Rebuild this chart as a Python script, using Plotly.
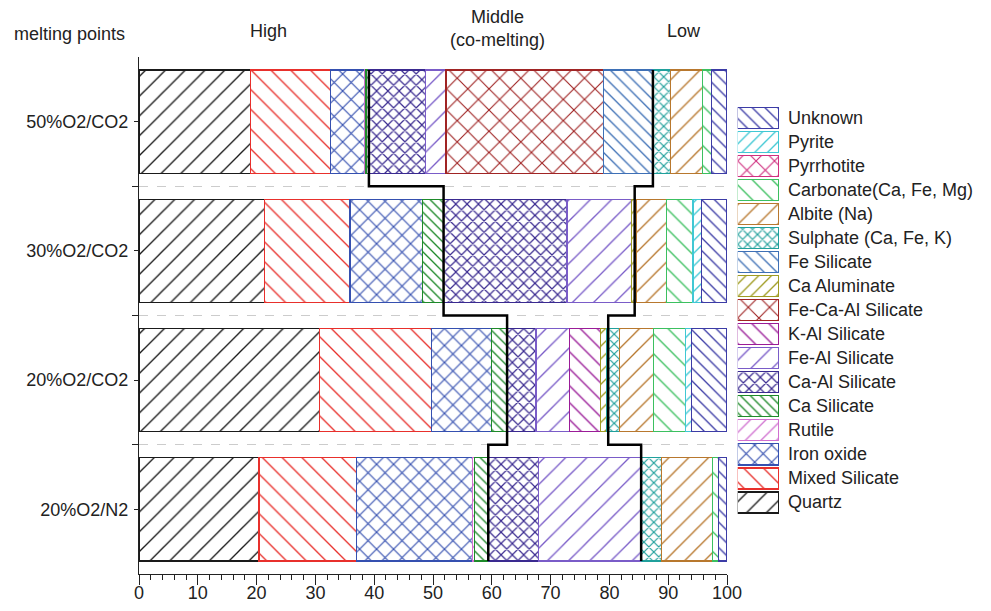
import plotly.graph_objects as go

# ---------------- data ----------------
categories = ["20%O2/N2", "20%O2/CO2", "30%O2/CO2", "50%O2/CO2"]  # bottom -> top

minerals = ["Quartz", "Mixed Silicate", "Iron oxide", "Rutile", "Ca Silicate",
            "Ca-Al Silicate", "Fe-Al Silicate", "K-Al Silicate", "Fe-Ca-Al Silicate",
            "Ca Aluminate", "Fe Silicate", "Sulphate (Ca, Fe, K)", "Albite (Na)",
            "Carbonate(Ca, Fe, Mg)", "Pyrrhotite", "Pyrite", "Unknown"]

# percentages per category, order: 20%O2/N2, 20%O2/CO2, 30%O2/CO2, 50%O2/CO2
quartz        = [20.4, 30.7, 21.4, 19.0]
mixed_sil     = [16.6, 19.1, 14.5, 13.6]
iron_oxide    = [19.7, 10.2, 12.3, 5.7]
rutile        = [0.4, 0.0, 0.0, 0.3]
ca_sil        = [2.3, 2.6, 3.6, 0.5]
ca_al_sil     = [8.5, 4.9, 21.0, 9.6]
fe_al_sil     = [17.5, 5.7, 11.0, 3.5]
k_al_sil      = [0.0, 5.3, 0.0, 0.0]
fe_ca_al_sil  = [0.0, 0.0, 0.0, 26.8]
ca_aluminate  = [0.0, 1.1, 0.4, 0.0]
fe_sil        = [0.0, 0.0, 0.0, 8.5]
sulphate      = [3.4, 2.1, 0.4, 2.9]
albite        = [8.8, 5.8, 5.1, 5.5]
carbonate     = [1.0, 5.5, 4.5, 1.5]
pyrrhotite    = [0.0, 0.0, 0.0, 0.0]
pyrite        = [0.0, 1.0, 1.4, 0.0]
unknown       = [1.4, 6.0, 4.4, 2.6]

series = [quartz, mixed_sil, iron_oxide, rutile, ca_sil, ca_al_sil, fe_al_sil,
          k_al_sil, fe_ca_al_sil, ca_aluminate, fe_sil, sulphate, albite,
          carbonate, pyrrhotite, pyrite, unknown]

# melting-point boundary step lines (x in %, y in category units)
high_mid_x = [39.1, 39.1, 51.8, 51.8, 62.6, 62.6, 59.4, 59.4]
mid_low_x  = [87.4, 87.4, 84.3, 84.3, 79.8, 79.8, 85.4, 85.4]
step_y     = [3.4, 2.5, 2.5, 1.5, 1.5, 0.5, 0.5, -0.4]

header_labels = ["melting points", "High", "Middle<br>(co-melting)", "Low"]
x_ticks = list(range(0, 101, 10))

# ---------------- styles ----------------
colors = ["#1a1a1a", "#e8302c", "#3550b0", "#d070d0", "#1e8a2a",
          "#3a2a90", "#7a5cc8", "#9a1c98", "#a02424",
          "#a09c22", "#3e70b6", "#20a09c", "#b8782e",
          "#3cc060", "#d03080", "#40c8d4", "#3c3ca6"]
shapes_p = ["/", "\\", "x", "/", "\\", "x", "/", "\\", "x",
            "/", "\\", "x", "/", "\\", "x", "/", "\\"]
sizes_p = [14, 14, 12, 11, 7, 8, 15, 12, 15, 9, 9, 7, 14, 14, 13, 9, 9]

FONT = "Liberation Sans, Arial, sans-serif"
W, H = 991, 611

fig = go.Figure()
ypos = list(range(len(categories)))


def marker_for(c, sh, sz):
    sol = (2.2 if sh == "x" else 1.35) / sz
    return dict(color=c, line=dict(color=c, width=1.2),
                pattern=dict(shape=sh, size=sz, solidity=sol,
                             fgcolor=c, bgcolor="white", fillmode="replace"))


for name, vals, c, sh, sz in zip(minerals, series, colors, shapes_p, sizes_p):
    fig.add_trace(go.Bar(
        x=vals, y=ypos, orientation="h", name=name, width=0.8,
        marker=marker_for(c, sh, sz),
        showlegend=False, xaxis="x", yaxis="y"))

for xs in (high_mid_x, mid_low_x):
    fig.add_trace(go.Scatter(x=xs, y=step_y, mode="lines",
                             line=dict(color="black", width=2.5),
                             showlegend=False, hoverinfo="skip",
                             xaxis="x", yaxis="y"))

# custom legend (swatches as bars in a small subplot)
leg_pos = list(range(len(minerals)))
for i, (name, c, sh, sz) in enumerate(zip(minerals, colors, shapes_p, sizes_p)):
    fig.add_trace(go.Bar(
        x=[1], y=[leg_pos[i]], orientation="h", width=0.875, cliponaxis=False,
        marker=marker_for(c, sh, sz),
        showlegend=False, hoverinfo="skip", xaxis="x4", yaxis="y4"))

annotations = []
for i, name in enumerate(minerals):
    annotations.append(dict(x=786 / W, y=leg_pos[i], xref="paper", yref="y4",
                            text=name, showarrow=False, xanchor="left",
                            yanchor="middle", font=dict(size=18, color="#222",
                                                        family=FONT)))

hdr_xy = [(69, 34), (268.7, 31), (497, 29), (684, 31)]
for t, (px, py) in zip(header_labels, hdr_xy):
    annotations.append(dict(x=px / W, y=1 - py / H, xref="paper", yref="paper",
                            text=t, showarrow=False, xanchor="center",
                            yanchor="middle", font=dict(size=18, color="#222",
                                                        family=FONT)))

xdom = [139 / W, 727 / W]
ydom = [1 - 574 / H, 1 - 57 / H]

fig.update_layout(
    width=W, height=H, autosize=False, margin=dict(l=0, r=0, t=0, b=0),
    paper_bgcolor="white", plot_bgcolor="white",
    barmode="stack", bargap=0.2,
    font=dict(family=FONT, size=18, color="#222"),
    annotations=annotations,
    xaxis=dict(domain=xdom, range=[0, 100], tickvals=x_ticks, automargin=False,
               ticks="outside", ticklen=10, tickwidth=1.3, tickcolor="#222",
               ticklabelstandoff=-8,
               showline=True, linecolor="#222", linewidth=1.3,
               showgrid=False, zeroline=False,
               tickfont=dict(size=18, color="#222"),
               minor=dict(dtick=2, ticks="outside", ticklen=5,
                          tickcolor="#222", tickwidth=1.1, showgrid=False),
               anchor="y"),
    xaxis2=dict(domain=xdom, range=[0, 100], overlaying="x", side="top",
                automargin=False,
                dtick=2, ticks="inside", ticklen=4, tickcolor="#444",
                showticklabels=False, showline=True, linecolor="#444",
                linewidth=1.1, showgrid=False, zeroline=False, anchor="y"),
    yaxis=dict(domain=ydom, range=[-0.5, 3.5], tickvals=ypos, ticktext=categories,
               automargin=False,
               ticks="outside", ticklen=4, tickcolor="#222", tickwidth=1.2,
               ticklabelstandoff=2,
               showline=True, linecolor="#222", linewidth=1.3,
               showgrid=False, zeroline=False,
               tickfont=dict(size=18, color="#222"),
               minor=dict(tickvals=[0.5, 1.5, 2.5], ticks="outside", ticklen=6,
                          tickcolor="#222", tickwidth=1.3, showgrid=True,
                          gridcolor="#cccccc", griddash="dash", gridwidth=1),
               anchor="x"),
    yaxis2=dict(domain=ydom, range=[-0.5, 3.5], overlaying="y", side="right",
                automargin=False,
                tickvals=[0, 0.5, 1, 1.5, 2, 2.5, 3], ticks="outside", ticklen=4,
                tickcolor="#777", showticklabels=False, showline=True,
                linecolor="#888", linewidth=1.3, showgrid=False,
                zeroline=False, anchor="x"),
    yaxis3=dict(domain=ydom, range=[-0.5, 3.5], overlaying="y", side="left",
                automargin=False,
                tickvals=[0.5, 1.5, 2.5], ticks="inside", ticklen=6,
                tickcolor="#222", tickwidth=1.3, showticklabels=False,
                showline=False, showgrid=False, zeroline=False, anchor="x"),
    xaxis4=dict(domain=[737.7 / W, 779 / W], range=[0, 1], visible=False,
                automargin=False, anchor="y4"),
    yaxis4=dict(domain=[1 - 514.5 / H, 1 - 105.8 / H], range=[-0.5, 16.5],
                visible=False, automargin=False, anchor="x4"),
)

fig.write_html("out.html",
               config={"responsive": False, "displayModeBar": False},
               default_width="991px", default_height="611px",
               post_script="document.body.style.margin='0px';"
                           "document.body.style.overflow='hidden';")
